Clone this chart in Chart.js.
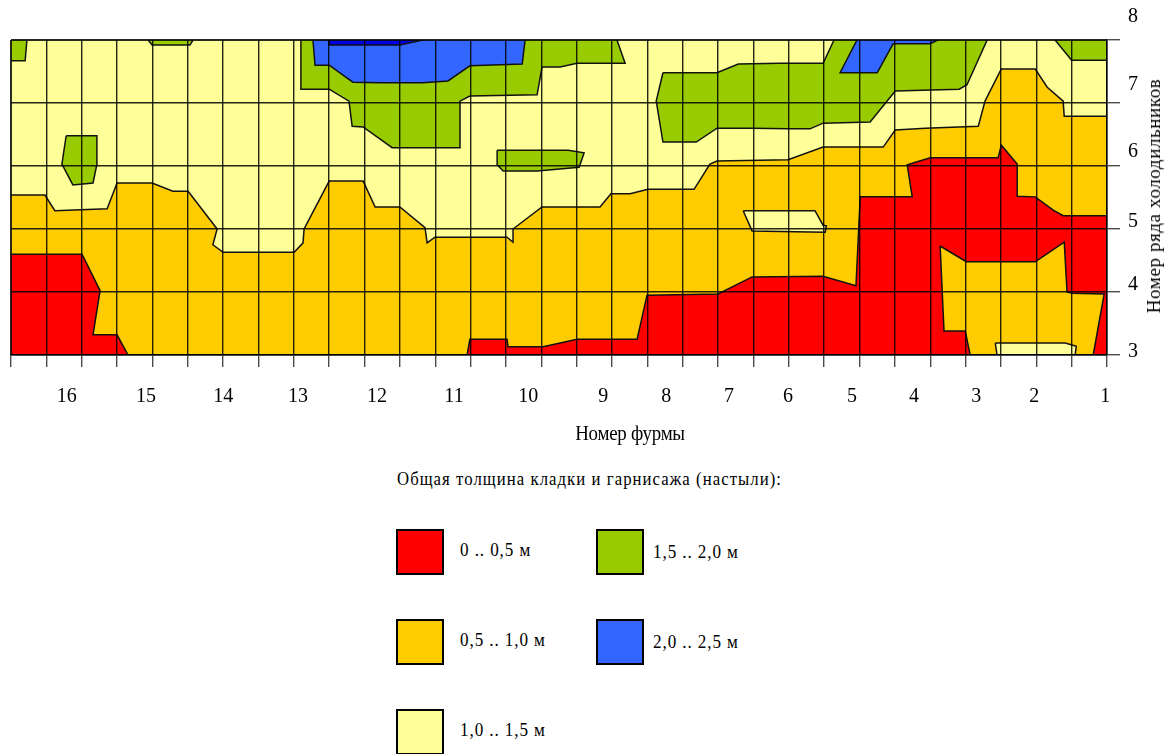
<!DOCTYPE html>
<html lang="ru">
<head>
<meta charset="utf-8">
<script src="https://cdn.jsdelivr.net/npm/chart.js@4.4.1/dist/chart.umd.min.js"></script>
<style>
  body { margin: 0; background: #fff; font-family: "Liberation Serif", "Times New Roman", serif; color: #000; }
  #wrap { position: relative; width: 1168px; height: 754px; overflow: hidden; }
  #chartBox { position: absolute; left: 0; top: 0; width: 1168px; height: 460px; }
  #yTitle { position: absolute; left: 1154px; top: 196px; transform: translate(-50%, -50%) rotate(-90deg);
            white-space: nowrap; font-size: 19px; letter-spacing: 0.6px; }
  #xTitle { position: absolute; left: 630px; top: 433px; transform: translate(-50%, -50%) scaleX(0.86);
            white-space: nowrap; font-size: 22px; letter-spacing: -0.3px; }
  #legendTitle { position: absolute; left: 397px; top: 468px; font-size: 19px; letter-spacing: 1.2px; white-space: nowrap;
                 transform: scaleX(0.88); transform-origin: left center; }
  .box { position: absolute; width: 44px; height: 42px; border: 2px solid #000; }
  .txt { position: absolute; font-size: 19px; letter-spacing: 1px; white-space: nowrap; line-height: 22px;
         transform: scaleX(0.9); transform-origin: left center; }
</style>
</head>
<body>
<div id="wrap">
  <div id="chartBox"><canvas id="surface"></canvas></div>
  <div id="yTitle">Номер ряда холодильников</div>
  <div id="xTitle">Номер фурмы</div>
  <div id="legendTitle">Общая толщина кладки и гарнисажа (настыли):</div>
  <div id="legend"></div>
</div>
<script>
  // -------------------------------------------------------------------
  // Data: x = measuring column (0..31), y = cooler row (3..8)
  // -------------------------------------------------------------------
  const tuyereLabels = ["16", "15", "14", "13", "12", "11", "10", "9", "8", "7", "6", "5", "4", "3", "2", "1"];
  const tuyereAt     = [1.58, 3.82, 6.0, 8.12, 10.35, 12.53, 14.63, 16.75, 18.53, 20.31, 21.98, 23.79, 25.54, 27.3, 28.94, 30.95];
  const rowLabels    = ["8", "7", "6", "5", "4", "3"];
  const rowLabelAt   = [8.37, 7.29, 6.22, 5.11, 4.11, 3.05];

  const legendText   = ["0 .. 0,5 м", "0,5 .. 1,0 м", "1,0 .. 1,5 м", "1,5 .. 2,0 м", "2,0 .. 2,5 м"];
  const bandColors   = ["#FF0000", "#FFCC00", "#FFFF99", "#99CC00", "#3366FF"];
  const deepBlue     = "#0000E6";

  // band outlines
  const yellowBase = [[0, 3], [31, 3], [31, 8], [0, 8]];
  const orangeMain = [[0, 5.54], [0.96, 5.54], [1.24, 5.29], [2.72, 5.32], [3, 5.73], [3.99, 5.73], [4.58, 5.6],
    [5.01, 5.6], [5.83, 5.0], [5.71, 4.75], [6, 4.63], [8.01, 4.63], [8.26, 4.78], [8.29, 5.0], [9, 5.76],
    [9.96, 5.76], [10.3, 5.35], [11, 5.35], [11.71, 5.02], [11.77, 4.78], [11.99, 4.87], [14.03, 4.87],
    [14.2, 4.79], [14.2, 5.0], [15.02, 5.35], [16.66, 5.35], [16.97, 5.56], [17.51, 5.56], [18.02, 5.63],
    [19.32, 5.63], [19.77, 6.03], [19.97, 6.08], [21.98, 6.1], [22.97, 6.3], [24.67, 6.3], [25.01, 6.57],
    [25.86, 6.6], [27.36, 6.63], [27.55, 7.03], [28.01, 7.54], [28.97, 7.54], [29.31, 7.25], [29.76, 7.03],
    [29.79, 6.79], [31, 6.79], [31, 3], [0, 3]];
  const yellowTuyere6 = [[20.71, 5.29], [22.74, 5.29], [22.97, 5.06], [23.06, 5.05], [23.03, 4.95], [20.96, 4.97]];
  const redLeft = [[0, 4.6], [2.01, 4.6], [2.52, 4.02], [2.32, 3.32], [3, 3.32], [3.31, 3], [0, 3]];
  const redRight = [[12.9, 3], [12.98, 3.25], [14.03, 3.25], [14.06, 3.13], [15.05, 3.13], [16.01, 3.25],
    [17.71, 3.25], [17.99, 3.95], [20, 3.97], [20.96, 4.24], [22.97, 4.25], [23.9, 4.1], [24.02, 5.51],
    [25.49, 5.51], [25.35, 6.02], [26, 6.13], [27.92, 6.13], [28.01, 6.33], [28.46, 6.03], [28.46, 5.52],
    [28.97, 5.51], [29.48, 5.3], [29.76, 5.21], [31, 5.21], [31, 3]];
  const orangeInRed = [[26.28, 4.73], [27.02, 4.48], [28.97, 4.48], [29.79, 4.79], [29.87, 4.0], [30.01, 3.98],
    [30.92, 3.97], [30.61, 3], [27.13, 3], [26.99, 3.38], [26.39, 3.38]];
  const yellowBottom = [[27.84, 3.19], [29.82, 3.19], [30.13, 3.14], [30.1, 3], [27.89, 3]];
  const greenTopLeft = [[0, 8], [0.45, 8], [0.4, 7.67], [0, 7.67]];
  const greenTopStrip = [[3.88, 8], [5.15, 8], [5.06, 7.92], [3.99, 7.92]];
  const greenIsland16 = [[1.56, 6.48], [2.43, 6.48], [2.43, 6.03], [2.32, 5.73], [1.75, 5.7], [1.44, 6.03]];
  const greenTopMid = [[8.2, 8], [8.2, 7.22], [9, 7.22], [9.56, 7.03], [9.65, 6.63], [9.96, 6.62], [10.78, 6.29],
    [12.7, 6.29], [12.7, 7.03], [12.98, 7.11], [14.88, 7.13], [15.02, 7.57], [15.53, 7.57], [16.01, 7.63],
    [17.37, 7.63], [17.14, 8]];
  const blueTopMid = [[8.54, 8], [8.6, 7.6], [9, 7.6], [9.67, 7.33], [10.44, 7.32], [11.65, 7.32], [12.36, 7.35],
    [12.98, 7.59], [14.46, 7.62], [14.54, 8]];
  const deepBlueTop = [[9, 8], [11.65, 8], [11, 7.92], [9.02, 7.92]];
  const greenIsland9 = [[13.75, 6.25], [15.76, 6.25], [16.21, 6.21], [16.07, 5.98], [14.88, 5.92], [13.92, 5.92], [13.75, 6.02]];
  const greenRight = [[18.44, 7.48], [19.97, 7.48], [20.57, 7.62], [21.75, 7.63], [22.97, 7.63], [23.28, 8],
    [27.61, 8], [27.04, 7.29], [26.82, 7.22], [25.01, 7.19], [24.3, 6.7], [22.97, 6.68], [22.6, 6.59],
    [21.98, 6.59], [20.96, 6.6], [19.97, 6.6], [19.38, 6.38], [18.44, 6.38], [18.25, 7.03]];
  const blueRight = [[23.93, 8], [26.22, 8], [26, 7.94], [24.95, 7.94], [24.5, 7.48], [23.45, 7.48]];
  const greenTopRight = [[29.53, 8], [30, 7.68], [31, 7.68], [31, 8]];

  const [RED, ORANGE, YELLOW, GREEN, BLUE] = bandColors;

  // painter's order: later entries are drawn on top
  const layers = [
    [yellowBase, YELLOW], [orangeMain, ORANGE], [yellowTuyere6, YELLOW],
    [redLeft, RED], [redRight, RED], [orangeInRed, ORANGE], [yellowBottom, YELLOW],
    [greenTopLeft, GREEN], [greenTopStrip, GREEN], [greenIsland16, GREEN],
    [greenTopMid, GREEN], [blueTopMid, BLUE], [deepBlueTop, deepBlue],
    [greenIsland9, GREEN], [greenRight, GREEN], [blueRight, BLUE], [greenTopRight, GREEN]
  ];

  // -------------------------------------------------------------------
  // Chart
  // -------------------------------------------------------------------
  const serif = '"Liberation Serif", "Times New Roman", serif';
  Chart.defaults.font.family = serif;
  Chart.defaults.color = "#000";

  const datasets = layers.map(([pts, color], i) => ({
    data: pts.concat([pts[0]]).map(([x, y]) => ({ x, y })),
    xAxisID: "x",
    yAxisID: "y",
    showLine: true,
    fill: "shape",
    backgroundColor: color,
    borderColor: "#111",
    borderWidth: 1.5,
    pointRadius: 0,
    tension: 0,
    order: layers.length - i
  }));

  const gridStyle = { color: "rgba(0,0,0,0.85)", lineWidth: 1.4, tickColor: "rgba(0,0,0,0.7)", tickWidth: 1.4, z: 1 };

  new Chart(document.getElementById("surface"), {
    type: "scatter",
    data: { datasets },
    options: {
      responsive: true,
      maintainAspectRatio: false,
      animation: false,
      devicePixelRatio: 1,
      events: [],
      layout: { padding: { left: 11, top: 40, right: 0, bottom: 0 } },
      plugins: { legend: { display: false }, tooltip: { enabled: false } },
      scales: {
        x: {
          type: "linear", min: 0, max: 31, position: "bottom", weight: 0,
          ticks: { display: false, stepSize: 1, autoSkip: false },
          grid: Object.assign({ tickLength: 12 }, gridStyle),
          border: { display: true, color: "#000", width: 1.5, z: 1 },
          afterFit: s => { s.height = 12; }
        },
        xl: {
          type: "linear", min: 0, max: 31, position: "bottom", weight: 1,
          afterBuildTicks: s => { s.ticks = tuyereAt.map(v => ({ value: v })); },
          ticks: { callback: (v, i) => tuyereLabels[i], autoSkip: false, maxRotation: 0, padding: 18,
                   font: { size: 20 } },
          grid: { display: false, drawTicks: false },
          border: { display: false },
          afterFit: s => { s.height = 93; }
        },
        y: {
          type: "linear", min: 3, max: 8, position: "right", weight: 0,
          ticks: { display: false, stepSize: 1 },
          grid: Object.assign({ tickLength: 13 }, gridStyle),
          border: { display: true, color: "#000", width: 1.5, z: 1 },
          afterFit: s => { s.width = 13; }
        },
        yl: {
          type: "linear", min: 3, max: 8, position: "right", weight: 1,
          afterBuildTicks: s => { s.ticks = rowLabelAt.map(v => ({ value: v })); },
          ticks: { callback: (v, i) => rowLabels[i], padding: 8, font: { size: 20 } },
          grid: { display: false, drawTicks: false },
          border: { display: false },
          afterFit: s => { s.width = 48; }
        }
      }
    }
  });

  // -------------------------------------------------------------------
  // Legend (two columns)
  // -------------------------------------------------------------------
  const legend = document.getElementById("legend");
  legendText.forEach((text, i) => {
    const col = i < 3 ? 0 : 1;
    const row = i < 3 ? i : i - 3;
    const boxLeft = col ? 596 : 396;
    const boxTop = 529 + row * 90;
    const box = document.createElement("div");
    box.className = "box";
    box.style.left = boxLeft + "px";
    box.style.top = boxTop + "px";
    box.style.background = bandColors[i];
    legend.appendChild(box);
    const lbl = document.createElement("div");
    lbl.className = "txt";
    lbl.textContent = text;
    lbl.style.left = (col ? 653 : 460) + "px";
    lbl.style.top = (boxTop + 10 + (col ? 2 : 0)) + "px";
    legend.appendChild(lbl);
  });
</script>
</body>
</html>
